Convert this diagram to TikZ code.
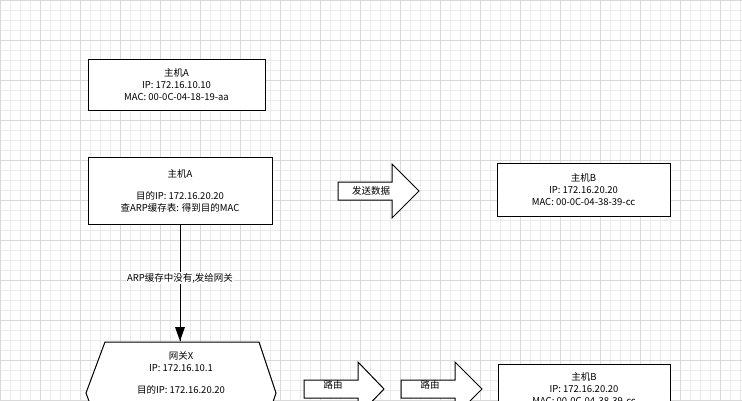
\documentclass[tikz,border=0pt]{standalone}
\usepackage{fontspec}
\setmainfont{Noto Sans CJK SC}
\begin{document}
\begin{tikzpicture}[x=1pt,y=-1pt,
  box/.style={draw,line width=1pt,fill=white,align=center,font=\fontsize{9.5}{12}\selectfont,inner sep=0pt},
  txt/.style={align=center,font=\fontsize{9.5}{12}\selectfont,inner sep=0pt},
  arr/.style={draw,line width=1pt,fill=white},
  lbl/.style={font=\fontsize{9.5}{11}\selectfont,fill=white,inner sep=1pt}]
\useasboundingbox (0,0) rectangle (742,400);
\clip (0,0) rectangle (742,400);
\draw[black!8,line width=0.4pt] (0,0) grid[step=10pt] (742,400);
\draw[black!15,line width=0.5pt] (0,0) grid[step=40pt] (742,400);
\node[box,minimum width=177pt,minimum height=51pt] (a1) at (176.5,84.5) {主机A\\IP: 172.16.10.10\\MAC: 00-0C-04-18-19-aa};
\node[box,minimum width=184pt,minimum height=67pt] (a2) at (180,190.5) {主机A\\[10pt]目的IP: 172.16.20.20\\查ARP缓存表: 得到目的MAC};
\draw[arr] (338,182) -- (392,182) -- (392,164) -- (419,191) -- (392,218) -- (392,200) -- (338,200) -- cycle;
\node[txt] (s) at (371,191) {发送数据};
\node[box,minimum width=173pt,minimum height=53pt] (b1) at (583.5,189.5) {主机B\\IP: 172.16.20.20\\MAC: 00-0C-04-38-39-cc};
\coordinate (gt) at (180,341);
\draw[line width=1pt] (a2.south) -- (gt);
\fill (gt) -- ++(-5,-14) -- ++(10,0) -- cycle;
\node[lbl] at (180,278) {ARP缓存中没有,发给网关};
\draw[line width=1pt,fill=white] (105,342) -- (259,342) -- (276,393) -- (259,444) -- (105,444) -- (86,393) -- cycle;
\node[txt,anchor=north] (x) at (181,351) {网关X\\IP: 172.16.10.1\\[10pt]目的IP: 172.16.20.20};
\draw[arr] (304,380) -- (358,380) -- (358,362) -- (384,389) -- (358,416) -- (358,398) -- (304,398) -- cycle;
\node[txt] (r1) at (333,385) {路由};
\draw[arr] (401,380) -- (455,380) -- (455,362) -- (482,389) -- (455,416) -- (455,398) -- (401,398) -- cycle;
\node[txt] (r2) at (430,385) {路由};
\node[box,minimum width=172pt,minimum height=60pt,anchor=north] (b2) at (584,364) {};
\node[txt,anchor=north] at (584,372) {主机B\\IP: 172.16.20.20\\MAC: 00-0C-04-38-39-cc};
\end{tikzpicture}
\end{document}
